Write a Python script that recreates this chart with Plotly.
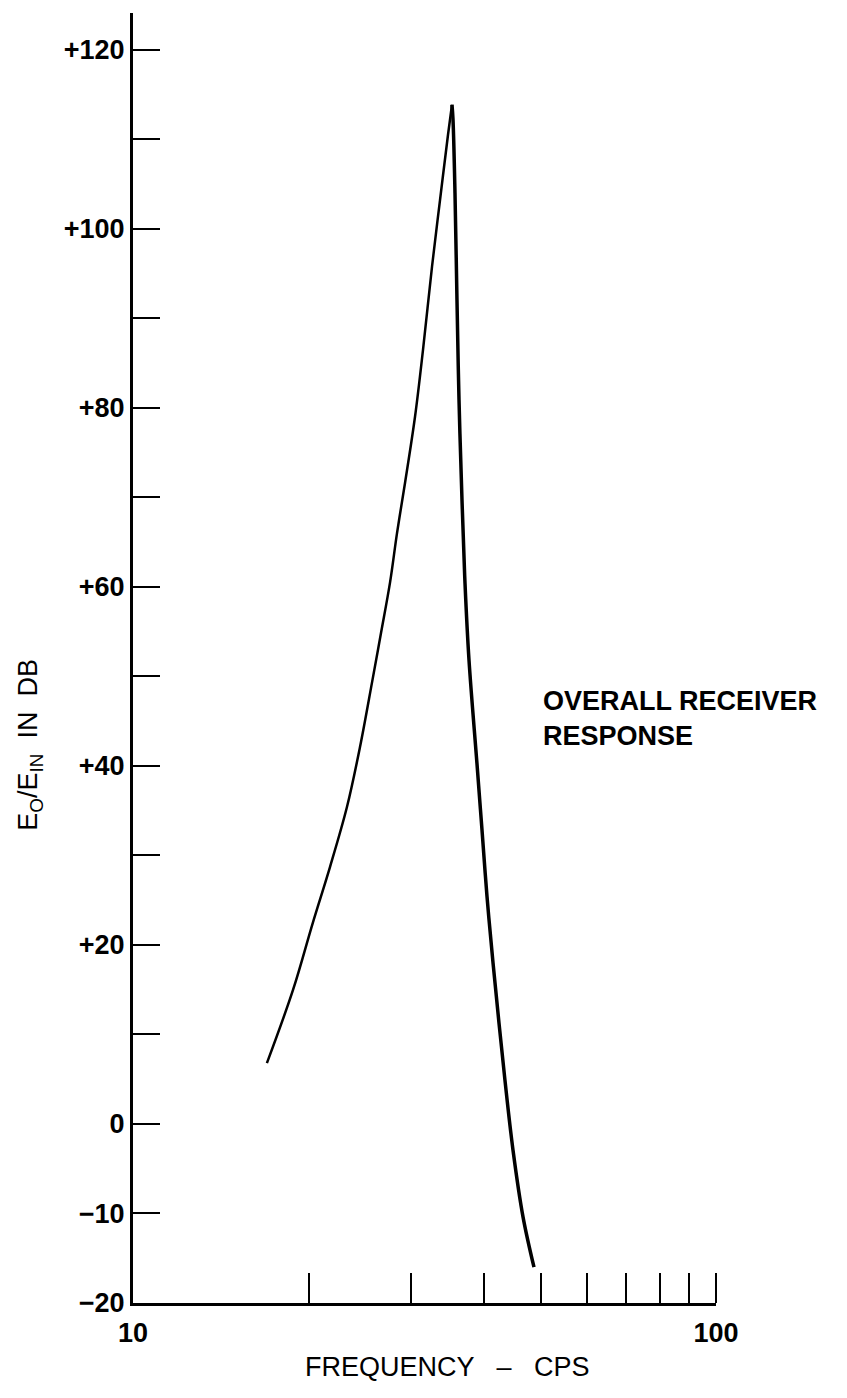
import plotly.graph_objects as go

# Rising branch (frequency in CPS, response in dB)
rise_freq = [16.97, 18.82, 20.35, 21.77, 23.28, 24.51, 25.70, 26.64, 27.60, 28.37, 29.28, 30.46, 31.44, 32.58, 33.62, 34.70, 35.25]
rise_db = [6.8, 15.0, 22.5, 28.7, 35.4, 42.1, 49.3, 54.9, 60.5, 66.0, 71.6, 79.0, 86.5, 95.8, 103.2, 110.5, 113.85]

# Falling branch
fall_freq = [35.25, 35.39, 35.67, 35.95, 36.24, 36.67, 37.11, 37.70, 38.90, 39.69, 40.48, 41.45, 43.45, 44.85, 46.67, 48.73]
fall_db = [113.85, 112.2, 104.0, 92.1, 80.9, 69.7, 60.4, 51.8, 40.3, 32.8, 25.4, 18.0, 4.9, -2.9, -10.4, -16.0]

x_tickvals = [10, 100]
x_ticktext = ["10", "100"]
x_minorvals = [20, 30, 40, 50, 60, 70, 80, 90, 100]

y_tickvals = [-20, -10, 0, 20, 40, 60, 80, 100, 120]
y_ticktext = ["\u221220", "\u221210", "0", "+20", "+40", "+60", "+80", "+100", "+120"]
y_minorvals = [10, 30, 50, 70, 90, 110]

FONT = "Liberation Sans"

fig = go.Figure()
fig.add_trace(go.Scatter(x=rise_freq, y=rise_db, mode="lines",
                         line=dict(color="black", width=2.5, shape="spline", smoothing=1.0),
                         showlegend=False, hoverinfo="skip"))
fig.add_trace(go.Scatter(x=fall_freq, y=fall_db, mode="lines",
                         line=dict(color="black", width=3.5, shape="spline", smoothing=1.0),
                         showlegend=False, hoverinfo="skip"))

# page has an 8px body margin, so the figure is 839x1390
fig.update_layout(
    width=839, height=1390,
    margin=dict(l=125, r=131, t=5, b=95, autoexpand=False),
    paper_bgcolor="white", plot_bgcolor="white",
    showlegend=False,
    font=dict(family=FONT, color="black"),
)

fig.update_xaxes(
    type="log", range=[1, 2], automargin=False,
    tickvals=x_tickvals, ticktext=x_ticktext,
    ticks="", tickcolor="black",
    minor=dict(tickvals=x_minorvals, ticks="inside", ticklen=30, tickwidth=2, tickcolor="black", showgrid=False),
    showline=True, linecolor="black", linewidth=3,
    showgrid=False, zeroline=False,
    tickfont=dict(family=FONT, size=27, color="black", weight="bold"),
    ticklabelstandoff=4,
)
fig.update_yaxes(
    range=[-20, 124.1], automargin=False,
    tickvals=y_tickvals, ticktext=y_ticktext,
    ticks="inside", ticklen=27, tickwidth=2, tickcolor="black",
    minor=dict(tickvals=y_minorvals, ticks="inside", ticklen=27, tickwidth=2, tickcolor="black", showgrid=False),
    showline=True, linecolor="black", linewidth=3,
    showgrid=False, zeroline=False,
    tickfont=dict(family=FONT, size=27, color="black", weight="bold"),
)

fig.add_annotation(
    text="E<sub>O</sub>/E<sub>IN</sub>  IN  DB",
    xref="paper", yref="paper", x=-0.177, y=0.4326,
    xanchor="center", yanchor="middle", textangle=-90, showarrow=False,
    font=dict(family=FONT, size=27, color="black"),
)
fig.add_annotation(
    text="FREQUENCY   \u2013   CPS",
    xref="paper", yref="paper", x=0.54, y=-0.0496,
    xanchor="center", yanchor="middle", showarrow=False,
    font=dict(family=FONT, size=27, color="black"),
)
fig.add_annotation(
    text="OVERALL RECEIVER<br>RESPONSE",
    xref="paper", yref="paper", x=(541 - 133) / 583, y=(1303 - 718) / 1290,
    xanchor="left", yanchor="middle", align="left", showarrow=False,
    font=dict(family=FONT, size=27, color="black", weight="bold"),
)

fig.write_html("out.html")
